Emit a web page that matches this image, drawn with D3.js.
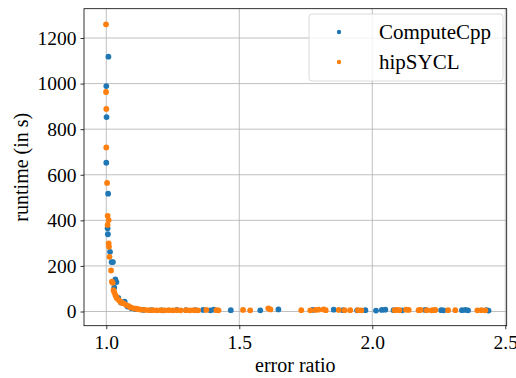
<!DOCTYPE html>
<html>
<head>
<meta charset="utf-8">
<script src="https://cdn.jsdelivr.net/npm/d3@7"></script>
<style>
  html, body { margin: 0; padding: 0; background: #fff; }
  svg { display: block; }
  text { font-family: "Liberation Serif", "Times New Roman", serif; fill: #000; }
</style>
</head>
<body>
<svg id="chart" width="516" height="378"></svg>
<script>
// ComputeCpp measurements: error ratio vs runtime (s)
const ccppRatio = [
  1.008, 1.000, 1.001, 1.000, 1.007, 1.005, 1.006, 1.014, 1.020, 1.025,
  1.038, 1.034, 1.030, 1.045, 1.055, 1.069, 1.080, 1.095, 1.110, 1.140,
  1.170, 1.210, 1.265, 1.300, 1.335,
  1.364, 1.391, 1.404, 1.468, 1.579, 1.647, 1.776, 1.855, 1.890, 1.943,
  1.974, 2.014, 2.036, 2.049, 2.080, 2.112, 2.199, 2.259, 2.268, 2.337,
  2.350, 2.360, 2.429, 2.437
];
const ccppRuntime = [
  1118, 989, 853, 653, 517, 365, 339, 262, 217, 217,
  129, 141, 105, 60, 40, 43, 22, 14, 10, 7,
  6, 5, 7, 6, 6,
  7, 5, 8, 6, 5, 9, 7, 8, 6, 5,
  6, 4, 7, 8, 6, 5, 7, 6, 5, 6,
  7, 5, 6, 4
];

// hipSYCL measurements: error ratio vs runtime (s)
const hipRatio = [
  0.999, 0.999, 1.000, 1.000, 1.003, 1.005, 1.009, 1.005, 1.009, 1.010,
  1.012, 1.018, 1.021, 1.027, 1.034, 1.040, 1.053, 1.065, 1.084, 1.103,
  1.121, 1.024, 1.030, 1.037, 1.047, 1.058, 1.075, 1.092, 1.112,
  1.130, 1.145, 1.160, 1.175, 1.190, 1.205, 1.220, 1.235, 1.250, 1.265,
  1.280, 1.300, 1.315, 1.330, 1.345,
  1.376, 1.414, 1.422, 1.514, 1.541, 1.609, 1.617, 1.733, 1.767, 1.786,
  1.798, 1.817, 1.825, 1.874, 1.896, 1.917, 1.946, 1.959, 2.084, 2.093,
  2.102, 2.127, 2.137, 2.174, 2.182, 2.205, 2.222, 2.231, 2.237, 2.285,
  2.312, 2.395, 2.410, 2.425
];
const hipRuntime = [
  1260, 963, 889, 720, 564, 420, 401, 380, 299, 284,
  240, 180, 131, 94, 72, 58, 43, 36, 24, 14,
  10, 126, 84, 66, 50, 38, 28, 18, 12,
  8, 7, 6, 6, 5, 6, 5, 6, 5, 6,
  5, 6, 5, 6, 5,
  7, 6, 5, 7, 5, 14, 9, 6, 5, 7,
  8, 9, 6, 7, 6, 6, 6, 5, 6, 7,
  6, 8, 7, 6, 7, 6, 5, 6, 7, 6,
  6, 5, 6, 5
];

const xTicks = [1.0, 1.5, 2.0, 2.5];
const yTicks = [0, 200, 400, 600, 800, 1000, 1200];

const seriesNames = ["ComputeCpp", "hipSYCL"];
const seriesColors = ["#1f77b4", "#ff7f0e"];

const svg = d3.select("#chart");
const plot = { left: 84, right: 506.7, top: 8.7, bottom: 325.7 };
const fontSize = 19.5;

const x = d3.scaleLinear().domain([0.9162, 2.5053]).range([plot.left, plot.right]);
const y = d3.scaleLinear().domain([-62.3, 1328.6]).range([plot.bottom, plot.top]);

// grid lines
const grid = svg.append("g").attr("stroke", "#b0b0b0").attr("stroke-width", 0.8);
grid.selectAll(".gx").data(xTicks).join("line")
  .attr("x1", d => x(d)).attr("x2", d => x(d))
  .attr("y1", plot.top).attr("y2", plot.bottom);
grid.selectAll(".gy").data(yTicks).join("line")
  .attr("x1", plot.left).attr("x2", plot.right)
  .attr("y1", d => y(d)).attr("y2", d => y(d));

// points
const series = [
  { xs: ccppRatio, ys: ccppRuntime, color: seriesColors[0] },
  { xs: hipRatio, ys: hipRuntime, color: seriesColors[1] }
];
series.forEach(s => {
  svg.append("g").selectAll("circle")
    .data(s.xs.map((v, i) => [v, s.ys[i]]))
    .join("circle")
    .attr("cx", d => x(d[0]))
    .attr("cy", d => y(d[1]))
    .attr("r", 2.9)
    .attr("fill", s.color);
});

// axes
const xAxis = d3.axisBottom(x).tickValues(xTicks).tickFormat(d3.format(".1f"))
  .tickSize(3.5).tickPadding(5.5);
const yAxis = d3.axisLeft(y).tickValues(yTicks).tickFormat(d3.format("d"))
  .tickSize(3.5).tickPadding(4);

const gx = svg.append("g").attr("transform", `translate(0,${plot.bottom})`).call(xAxis);
const gy = svg.append("g").attr("transform", `translate(${plot.left},0)`).call(yAxis);
[gx, gy].forEach(g => {
  g.select(".domain").remove();
  g.selectAll("line").attr("stroke", "#000").attr("stroke-width", 0.8);
  g.selectAll("text").style("font-size", fontSize + "px")
    .style("font-family", "'Liberation Serif', serif").attr("fill", "#000");
});

// frame
svg.append("rect")
  .attr("x", plot.left).attr("y", plot.top)
  .attr("width", plot.right - plot.left).attr("height", plot.bottom - plot.top)
  .attr("fill", "none").attr("stroke", "#000").attr("stroke-width", 0.8);

// axis titles
svg.append("text")
  .attr("x", (plot.left + plot.right) / 2).attr("y", 372)
  .attr("text-anchor", "middle").style("font-size", "20px")
  .text("error ratio");
svg.append("text")
  .attr("transform", `translate(28,${(plot.top + plot.bottom) / 2}) rotate(-90)`)
  .attr("text-anchor", "middle").style("font-size", "20px")
  .text("runtime (in s)");

// legend
const legend = svg.append("g");
legend.append("rect")
  .attr("x", 309).attr("y", 14).attr("width", 194).attr("height", 67)
  .attr("rx", 3).attr("fill", "#fff").attr("fill-opacity", 0.8)
  .attr("stroke", "#d0d0d0").attr("stroke-width", 0.8);
seriesNames.forEach((name, i) => {
  const cy = 32 + i * 30;
  legend.append("circle").attr("cx", 339).attr("cy", cy).attr("r", 2.2)
    .attr("fill", seriesColors[i]);
  legend.append("text").attr("x", 379).attr("y", cy + 6.5)
    .style("font-size", "21px").text(name);
});
</script>
</body>
</html>
